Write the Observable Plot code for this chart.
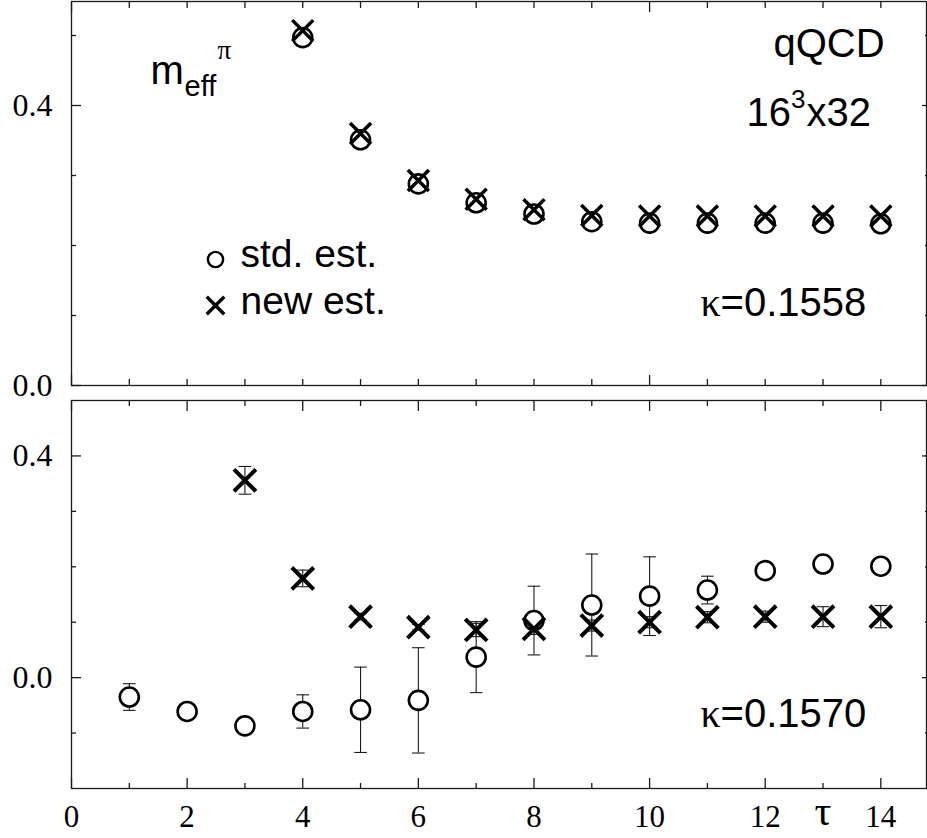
<!DOCTYPE html>
<html><head><meta charset="utf-8">
<script src="https://cdn.jsdelivr.net/npm/d3@7"></script>
<script src="https://cdn.jsdelivr.net/npm/@observablehq/plot@0.6"></script>
<style>
body{margin:0;background:#fff;}
#chart{position:relative;width:927px;height:838px;}
#chart svg{display:block;position:absolute;left:0;}
</style>
</head><body><div id="chart"></div>
<script>
// ---------- data: upper panel (kappa = 0.1558) ----------
const tauTop = [4, 5, 6, 7, 8, 9, 10, 11, 12, 13, 14];
const stdTop = [0.497, 0.351, 0.288, 0.261, 0.245, 0.234, 0.232, 0.232, 0.232, 0.232, 0.231];
const newTop = [0.507, 0.360, 0.293, 0.266, 0.251, 0.243, 0.242, 0.242, 0.242, 0.242, 0.242];

// ---------- data: lower panel (kappa = 0.1570) ----------
const tauBotStd = [1, 2, 3, 4, 5, 6, 7, 8, 9, 10, 11, 12, 13, 14];
const stdBot    = [-0.035, -0.061, -0.087, -0.061, -0.058, -0.041, 0.037, 0.103, 0.131, 0.147, 0.158, 0.193, 0.205, 0.201];
const stdBotErr = [0.024, 0.004, 0.004, 0.030, 0.077, 0.095, 0.064, 0.062, 0.092, 0.071, 0.025, 0.008, 0.008, 0.008];
const tauBotNew = [3, 4, 5, 6, 7, 8, 9, 10, 11, 12, 13, 14];
const newBot    = [0.356, 0.179, 0.110, 0.091, 0.086, 0.088, 0.094, 0.100, 0.109, 0.110, 0.110, 0.110];
const newBotErr = [0.025, 0.015, 0.006, 0.005, 0.012, 0.010, 0.010, 0.010, 0.010, 0.010, 0.018, 0.020];

// ---------- ticks ----------
const xLabelTicks = [0, 2, 4, 6, 8, 10, 12, 14];
const xTauTick = [13];
const xTauLabel = "τ";
const xMajorTop = [0, 10];
const xMinorTop = [1, 2, 3, 4, 5, 6, 7, 8, 9, 11, 12, 13, 14];
const xMajorBot = [0, 2, 4, 6, 8, 10, 12, 14];
const xMinorBot = [1, 3, 5, 7, 9, 11, 13];
const yLabelTicks = [0, 0.4];
const yMinorTop = [0.1, 0.2, 0.3, 0.5];
const yMinorBot = [-0.1, 0.1, 0.2, 0.3];

// ---------- annotations ----------
const legendLabels = ["std. est.", "new est."];
const kappaTop = "=0.1558";
const kappaBot = "=0.1570";

const sans = "Liberation Sans, Arial, Helvetica, sans-serif";
const serif = "Liberation Serif, Times New Roman, serif";
const ink = "#1a1a1a";

const topRows = tauTop.map((t, i) => ({t, s: stdTop[i], n: newTop[i]}));
const botStd = tauBotStd.map((t, i) => ({t, v: stdBot[i], e: stdBotErr[i]}));
const botNew = tauBotNew.map((t, i) => ({t, v: newBot[i], e: newBotErr[i]}));

const capSymbol = {draw(ctx, size) { const w = Math.sqrt(size / Math.PI); ctx.moveTo(-w, 0); ctx.lineTo(w, 0); }};
const tickStyle = {stroke: ink, strokeWidth: 1.3, tickFormat: () => "", label: null};

function frameAxes(xMajor, xMinor, xMinorLen, yMinor) {
  return [
    Plot.frame({stroke: ink, strokeWidth: 1.3}),
    Plot.axisX(xMajor, {anchor: "bottom", tickSize: -10, ...tickStyle}),
    Plot.axisX(xMinor, {anchor: "bottom", tickSize: -xMinorLen, ...tickStyle}),
    Plot.axisX(xMajor, {anchor: "top", tickSize: -10, ...tickStyle}),
    Plot.axisX(xMinor, {anchor: "top", tickSize: -xMinorLen, ...tickStyle}),
    Plot.axisY(yLabelTicks, {anchor: "left", tickSize: -10, ...tickStyle}),
    Plot.axisY(yMinor, {anchor: "left", tickSize: -5, ...tickStyle}),
    Plot.axisY(yLabelTicks, {anchor: "right", tickSize: -5, ...tickStyle}),
    Plot.axisY(yMinor, {anchor: "right", tickSize: -2, ...tickStyle}),
    Plot.axisY(yLabelTicks, {anchor: "left", tickSize: 0, tickPadding: 19, fontSize: 32, fontFamily: serif, fill: "black", tickFormat: d => d.toFixed(1), label: null})
  ];
}

const topPlot = Plot.plot({
  width: 927, height: 410,
  marginLeft: 71, marginRight: 1, marginTop: 1, marginBottom: 25,
  style: {background: "transparent", color: "black", fontFamily: serif},
  x: {domain: [0, 14.79]},
  y: {domain: [0, 0.5486]},
  marks: [
    ...frameAxes(xMajorTop, xMinorTop, 6, yMinorTop),
    Plot.dot(topRows, {x: "t", y: "s", r: 9.5, stroke: "black", strokeWidth: 2.6, fill: "white"}),
    Plot.dot(topRows, {x: "t", y: "n", r: 9.6, symbol: "times", stroke: "black", strokeWidth: 3.5, fill: "none"}),
    // m_eff^pi
    Plot.text(["m"], {x: 1.367, y: 0.431, text: d => d, fontSize: 40, fontFamily: sans, textAnchor: "start", lineAnchor: "bottom"}),
    Plot.text(["eff"], {x: 1.955, y: 0.414, text: d => d, fontSize: 29, fontFamily: sans, textAnchor: "start", lineAnchor: "bottom"}),
    Plot.text(["π"], {x: 2.526, y: 0.467, text: d => d, fontSize: 27, fontFamily: serif, textAnchor: "start", lineAnchor: "bottom"}),
    // qQCD, 16^3x32
    Plot.text(["qQCD"], {x: 14.066, y: 0.469, text: d => d, fontSize: 40, fontFamily: sans, textAnchor: "end", lineAnchor: "bottom"}),
    Plot.text(["16"], {x: 11.678, y: 0.3714, text: d => d, fontSize: 40, fontFamily: sans, textAnchor: "start", lineAnchor: "bottom"}),
    Plot.text(["3"], {x: 12.448, y: 0.397, text: d => d, fontSize: 26, fontFamily: sans, textAnchor: "start", lineAnchor: "bottom"}),
    Plot.text(["x32"], {x: 12.716, y: 0.3714, text: d => d, fontSize: 40, fontFamily: sans, textAnchor: "start", lineAnchor: "bottom"}),
    // kappa
    Plot.text(["κ"], {x: 11.228, y: 0.1, text: d => d, fontSize: 40, fontFamily: serif, textAnchor: "end", lineAnchor: "bottom"}),
    Plot.text([kappaTop], {x: 11.228, y: 0.1, text: d => d, fontSize: 40, fontFamily: sans, textAnchor: "start", lineAnchor: "bottom"}),
    // legend
    Plot.dot([0], {x: 2.491, y: 0.18, r: 7.6, stroke: "black", strokeWidth: 2.4, fill: "white"}),
    Plot.dot([0], {x: 2.491, y: 0.1143, r: 8, symbol: "times", stroke: "black", strokeWidth: 3.4, fill: "none"}),
    Plot.text([legendLabels[0]], {x: 2.924, y: 0.169, text: d => d, fontSize: 39, fontFamily: sans, textAnchor: "start", lineAnchor: "bottom"}),
    Plot.text([legendLabels[1]], {x: 2.924, y: 0.1024, text: d => d, fontSize: 39, fontFamily: sans, textAnchor: "start", lineAnchor: "bottom"})
  ]
});

const botPlot = Plot.plot({
  width: 927, height: 439,
  marginLeft: 71, marginRight: 1, marginTop: 1, marginBottom: 50,
  style: {background: "transparent", color: "black", fontFamily: serif},
  x: {domain: [0, 14.79]},
  y: {domain: [-0.2, 0.5]},
  marks: [
    ...frameAxes(xMajorBot, xMinorBot, 5, yMinorBot),
    Plot.axisX(xLabelTicks, {anchor: "bottom", tickSize: 0, tickPadding: 16, fontSize: 31, fontFamily: serif, fill: "black", label: null}),
    Plot.axisX(xTauTick, {anchor: "bottom", tickSize: 0, tickPadding: 7, fontSize: 42, fontFamily: serif, fill: "black", tickFormat: () => xTauLabel, label: null}),
    // error bars
    Plot.ruleX(botStd, {x: "t", y1: d => d.v - d.e, y2: d => d.v + d.e, stroke: ink, strokeWidth: 1.1}),
    Plot.dot(botStd, {x: "t", y: d => d.v + d.e, symbol: capSymbol, r: 6.3, stroke: ink, strokeWidth: 1.1, fill: "none"}),
    Plot.dot(botStd, {x: "t", y: d => d.v - d.e, symbol: capSymbol, r: 6.3, stroke: ink, strokeWidth: 1.1, fill: "none"}),
    Plot.ruleX(botNew, {x: "t", y1: d => d.v - d.e, y2: d => d.v + d.e, stroke: ink, strokeWidth: 1.1}),
    Plot.dot(botNew, {x: "t", y: d => d.v + d.e, symbol: capSymbol, r: 6.3, stroke: ink, strokeWidth: 1.1, fill: "none"}),
    Plot.dot(botNew, {x: "t", y: d => d.v - d.e, symbol: capSymbol, r: 6.3, stroke: ink, strokeWidth: 1.1, fill: "none"}),
    // markers
    Plot.dot(botStd, {x: "t", y: "v", r: 9.5, stroke: "black", strokeWidth: 2.6, fill: "white"}),
    Plot.dot(botNew, {x: "t", y: "v", r: 10, symbol: "times", stroke: "black", strokeWidth: 4, fill: "none"}),
    // kappa
    Plot.text(["κ"], {x: 11.228, y: -0.0895, text: d => d, fontSize: 40, fontFamily: serif, textAnchor: "end", lineAnchor: "bottom"}),
    Plot.text([kappaBot], {x: 11.228, y: -0.0895, text: d => d, fontSize: 40, fontFamily: sans, textAnchor: "start", lineAnchor: "bottom"})
  ]
});

const chart = document.getElementById("chart");
topPlot.style.top = "0px";
botPlot.style.top = "399px";
chart.appendChild(topPlot);
chart.appendChild(botPlot);
</script>
</body></html>
